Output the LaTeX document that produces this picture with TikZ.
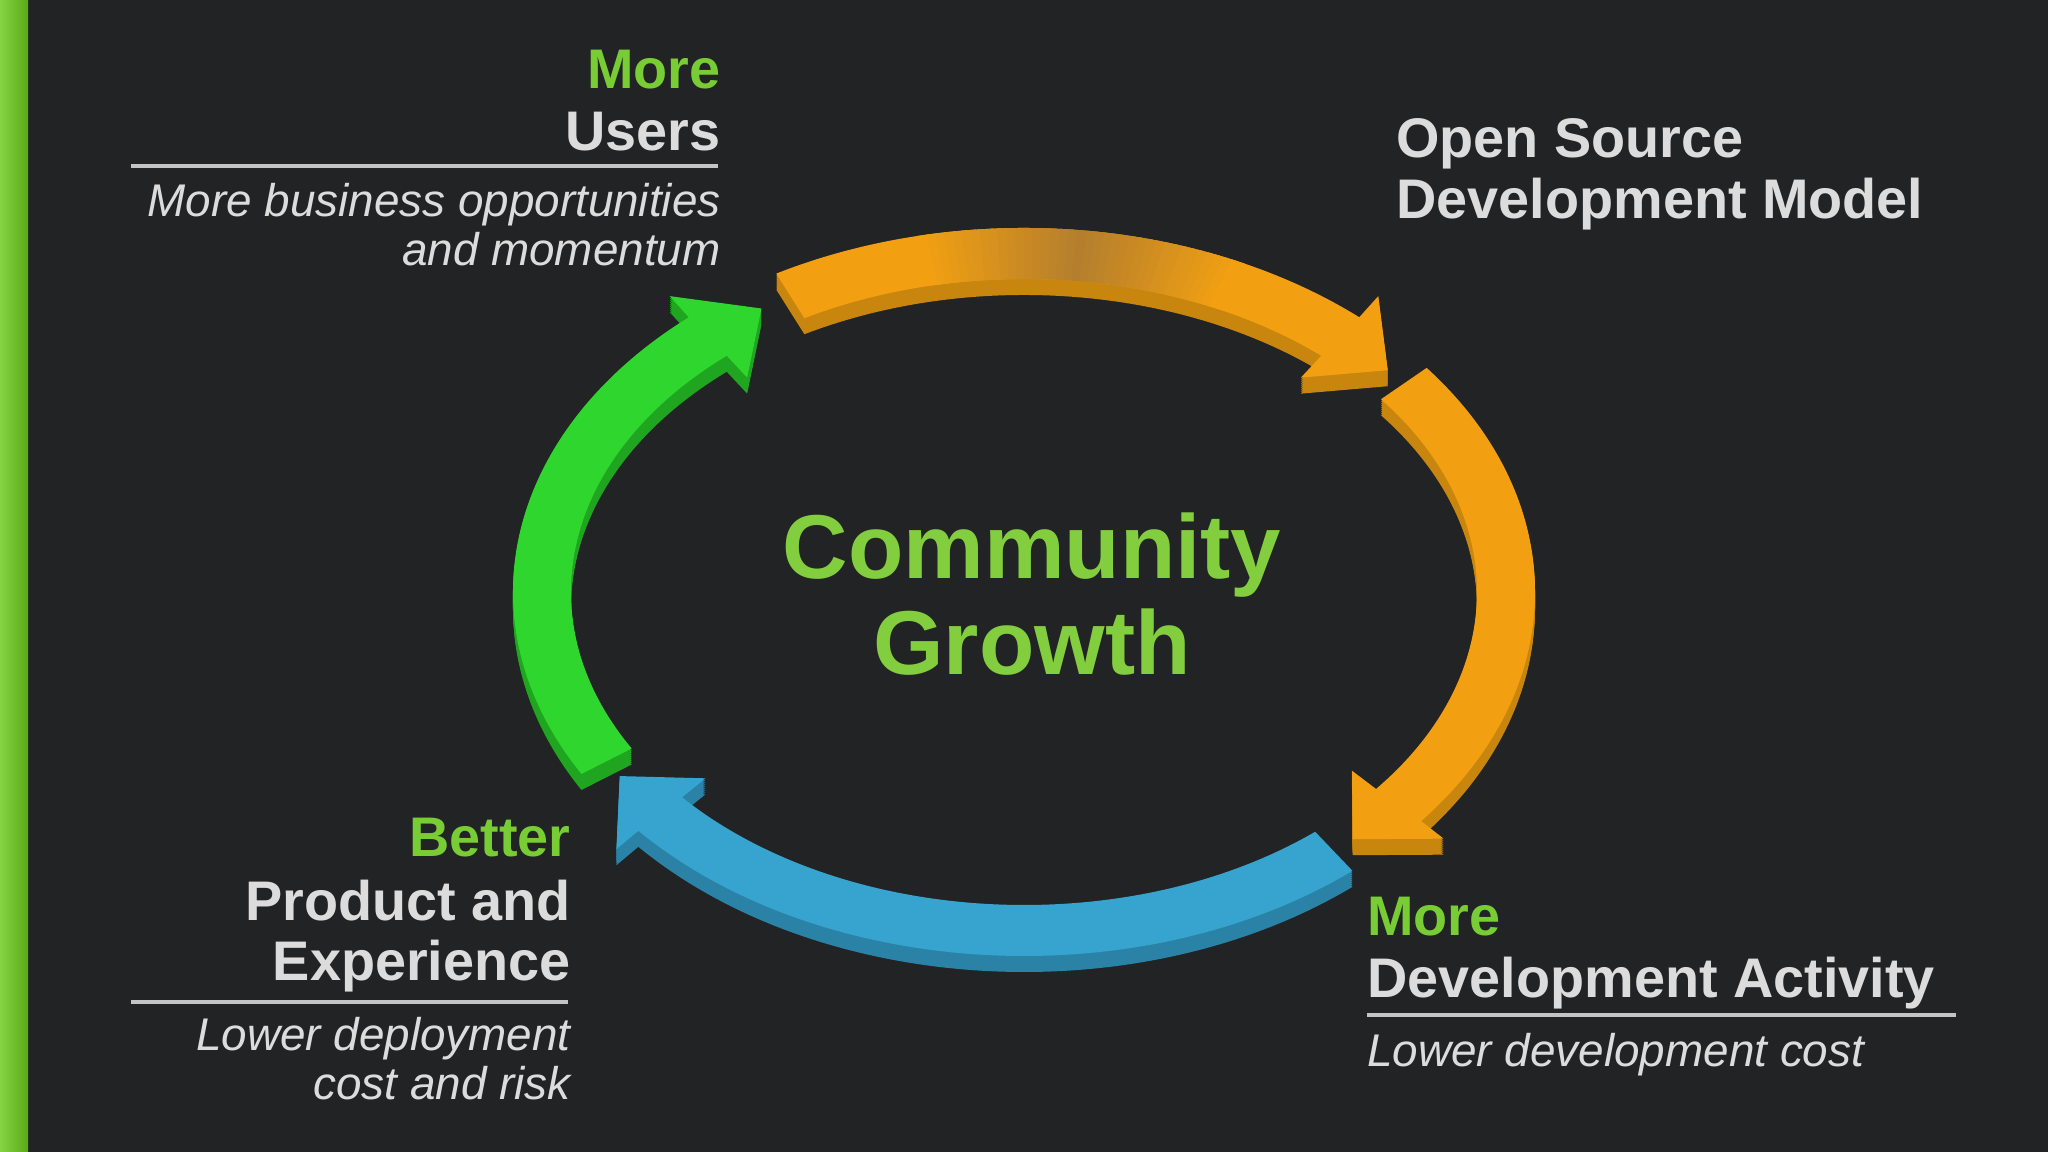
\documentclass[tikz,border=0pt]{standalone}
\usepackage{fontspec}
\setmainfont{Liberation Sans}
\definecolor{bgdark}{HTML}{222324}
\definecolor{stripeL}{HTML}{84D444}
\definecolor{stripeR}{HTML}{5AAA1A}
\definecolor{leafgreen}{HTML}{78CC34}
\definecolor{hubgreen}{HTML}{82CE3E}
\definecolor{silver}{HTML}{DCDCDC}
\definecolor{rulegray}{HTML}{C4C4C4}
\definecolor{orangeface}{HTML}{F2A012}
\definecolor{orangetan}{HTML}{A87832}
\definecolor{orangeside}{HTML}{C8860E}
\definecolor{blueface}{HTML}{36A4CE}
\definecolor{blueside}{HTML}{2A82A6}
\definecolor{greenface}{HTML}{2ED62E}
\definecolor{greenside}{HTML}{1FA51F}
\newcommand{\headfont}{\fontsize{28}{30}\selectfont\bfseries}
\newcommand{\subfont}{\fontsize{23}{25}\selectfont\itshape}
\newcommand{\hubfont}{\fontsize{45.5}{48}\selectfont\bfseries}
% ring radii (outer, inner, head outer, head inner, tip)
\def\rox{255.5bp}\def\roy{182bp}
\def\rix{226.5bp}\def\riy{156.5bp}
\def\hox{270bp}\def\hoy{196bp}
\def\hix{211bp}\def\hiy{142bp}
\def\tmx{241bp}\def\tmy{169bp}
% #1 start angle, #2 head base angle, #3 tip angle
\newcommand{\ringseg}[3]{({cos(#1)*\rox},{sin(#1)*\roy}) arc[start angle=#1,end angle=#2,x radius=\rox,y radius=\roy] -- ({cos(#2)*\hox},{sin(#2)*\hoy}) -- ({cos(#3)*\tmx},{sin(#3)*\tmy}) -- ({cos(#2)*\hix},{sin(#2)*\hiy}) -- ({cos(#2)*\rix},{sin(#2)*\riy}) arc[start angle=#2,end angle=#1,x radius=\rix,y radius=\riy] -- cycle}
% plain band between two angles
\newcommand{\ringband}[2]{({cos(#1)*\rox},{sin(#1)*\roy}) arc[start angle=#1,end angle=#2,x radius=\rox,y radius=\roy] -- ({cos(#2)*\rix},{sin(#2)*\riy}) arc[start angle=#2,end angle=#1,x radius=\rix,y radius=\riy] -- cycle}
\begin{document}
\begin{tikzpicture}[x=0.5bp,y=0.5bp,line join=bevel,
  head/.style={font=\headfont,text=silver,inner sep=0pt},
  headgreen/.style={head,text=leafgreen},
  sub/.style={font=\subfont,text=silver,inner sep=0pt},
  hub/.style={font=\hubfont,text=hubgreen,inner sep=0pt},
  rule/.style={draw=rulegray,line width=2bp}]
%%
\fill[bgdark] (0,0) rectangle (2048,1152);
\useasboundingbox (0,0) rectangle (2048,1152);
\shade[left color=stripeL,right color=stripeR] (0,0) rectangle (28,1152);
%% ring
\begin{scope}[shift={(1024,560)}]
  \foreach \d in {8,7,...,1} {
    \fill[greenside,yshift=-\d bp] \ringseg{210}{131}{123};
    \fill[blueside,yshift=-\d bp] \ringseg{-50}{-139}{-147};
    \fill[orangeside,yshift=-\d bp] \ringseg{38}{-39}{-47};
    \fill[orangeside,yshift=-\d bp] \ringseg{119}{49}{41};
  }
  \fill[greenface] \ringseg{210}{131}{123};
  \fill[blueface] \ringseg{-50}{-139}{-147};
  \fill[orangeface] \ringseg{38}{-39}{-47};
  \fill[orangeface] \ringseg{119}{49}{41};
  % darker tan sheen on the top arrow
  \foreach \a in {102,101,...,66} {
    \pgfmathsetmacro\w{max(0,85-abs(\a-84)*4.7)}
    \fill[orangetan!\w!orangeface] \ringband{\a}{\a-1.6};
  }
\end{scope}
%% centre
\node[hub,anchor=base] (hubA) at (1032,573) {Community};
\node[hub,anchor=base] (hubB) at (1032,477) {Growth};
%% top left
\node[headgreen,anchor=base east] (usersMore) at (721,1063) {More};
\node[head,anchor=base east] (users) at (721,1001) {Users};
\coordinate (usersRuleL) at (131,986);
\coordinate (usersRuleR) at (718,986);
\draw[rule] (usersRuleL) -- (usersRuleR);
\node[sub,anchor=base east] (usersSubA) at (721,935) {More business opportunities};
\node[sub,anchor=base east] (usersSubB) at (721,886) {and momentum};
%% top right
\node[head,anchor=base west] (osdmA) at (1396,994) {Open Source};
\node[head,anchor=base west] (osdmB) at (1396,933) {Development Model};
%% bottom left
\node[headgreen,anchor=base east] (better) at (571,295) {Better};
\node[head,anchor=base east] (productA) at (571,231) {Product and};
\node[head,anchor=base east] (productB) at (571,171) {Experience};
\coordinate (productRuleL) at (131,150);
\coordinate (productRuleR) at (568,150);
\draw[rule] (productRuleL) -- (productRuleR);
\node[sub,anchor=base east] (productSubA) at (571,101) {Lower deployment};
\node[sub,anchor=base east] (productSubB) at (571,52) {cost and risk};
%% bottom right
\node[headgreen,anchor=base west] (devMore) at (1367,216) {More};
\node[head,anchor=base west] (dev) at (1367,154) {Development Activity};
\coordinate (devRuleL) at (1367,137);
\coordinate (devRuleR) at (1956,137);
\draw[rule] (devRuleL) -- (devRuleR);
\node[sub,anchor=base west] (devSub) at (1367,85) {Lower development cost};
%
\end{tikzpicture}
\end{document}
